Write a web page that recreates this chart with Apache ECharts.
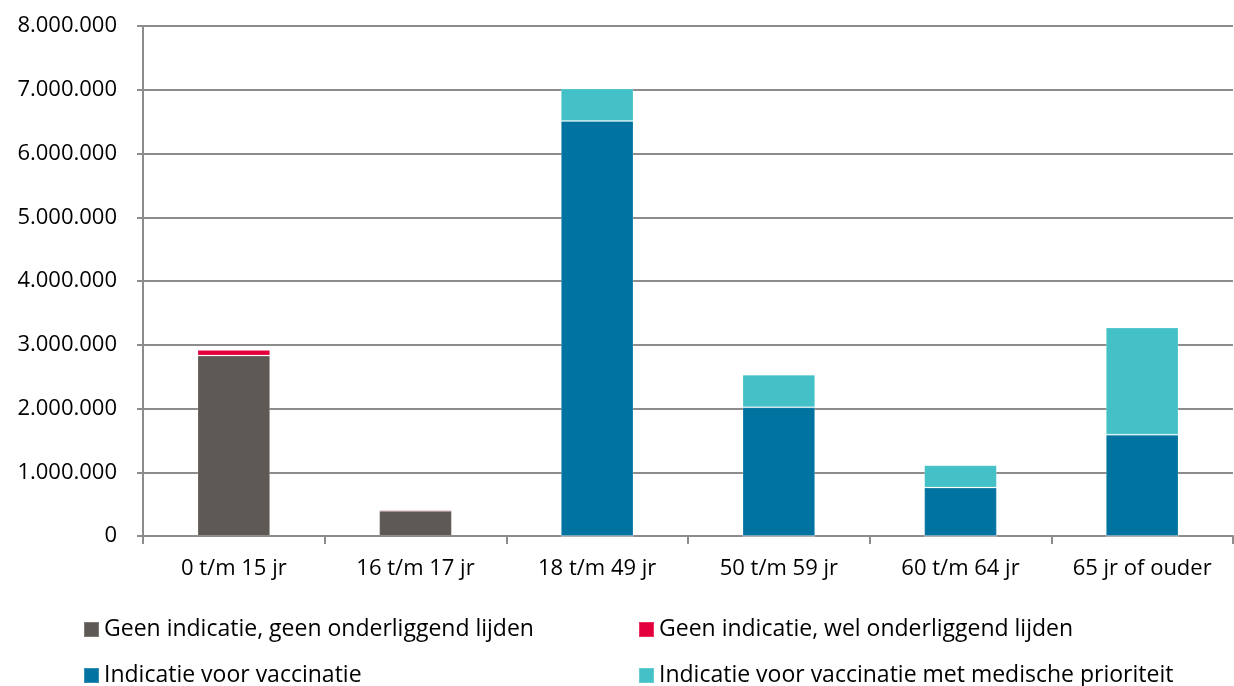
<!DOCTYPE html>
<html>
<head>
<meta charset="utf-8">
<script src="https://cdn.jsdelivr.net/npm/echarts@6/dist/echarts.min.js"></script>
<style>
    html, body { margin: 0; padding: 0; background: #fff; }
    #chart { width: 1234px; height: 686px; }
</style>
</head>
<body>
<div id="chart"></div>
<script>
// categorieën (leeftijdsgroepen)
var categories = ['0 t/m 15 jr', '16 t/m 17 jr', '18 t/m 49 jr', '50 t/m 59 jr', '60 t/m 64 jr', '65 jr of ouder'];

// reeksen
var seriesNames = [
    'Geen indicatie, geen onderliggend lijden',
    'Geen indicatie, wel onderliggend lijden',
    'Indicatie voor vaccinatie',
    'Indicatie voor vaccinatie met medische prioriteit'
];
var geenGeen = [2830000, 395000, 0, 0, 0, 0];
var geenWel = [90000, 20000, 0, 0, 0, 0];
var indicatie = [0, 0, 6510000, 2020000, 760000, 1590000];
var prioriteit = [0, 0, 510000, 510000, 350000, 1680000];

var colors = ['#5e5954', '#e4003d', '#0073a0', '#43c1c6'];

var font = '"Open Sans", sans-serif';

function fmt(v) {
    return String(v).replace(/\B(?=(\d{3})+(?!\d))/g, '.');
}

function legendAt(name, left, top) {
    return {
        data: [name],
        left: left,
        top: top,
        padding: 0,
        itemWidth: 15,
        itemHeight: 15,
        icon: 'rect',
        textStyle: { fontFamily: font, fontSize: 23, color: '#000' },
        selectedMode: false
    };
}

var chart = echarts.init(document.getElementById('chart'));
var values = [geenGeen, geenWel, indicatie, prioriteit];

chart.setOption({
    animation: false,
    color: colors,
    grid: { left: 143, right: 1, top: 26, bottom: 150 },
    legend: [
        legendAt(seriesNames[0], 83, 618),
        legendAt(seriesNames[1], 638, 618),
        legendAt(seriesNames[2], 83, 664),
        legendAt(seriesNames[3], 638, 664)
    ],
    xAxis: {
        type: 'category',
        data: categories,
        axisLine: { lineStyle: { color: '#8c8c8c', width: 2 } },
        axisTick: { show: true, length: 8, lineStyle: { color: '#8c8c8c', width: 2 } },
        axisLabel: { fontFamily: font, fontSize: 22, color: '#000', margin: 22 }
    },
    yAxis: {
        type: 'value',
        min: 0,
        max: 8000000,
        interval: 1000000,
        axisLine: { show: true, lineStyle: { color: '#8c8c8c', width: 2 } },
        axisTick: { show: true, length: 6, lineStyle: { color: '#8c8c8c', width: 2 } },
        splitLine: { lineStyle: { color: '#8c8c8c', width: 2 } },
        axisLabel: { fontFamily: font, fontSize: 22, color: '#000', margin: 26, formatter: fmt }
    },
    series: values.map(function (d, i) {
        return {
            name: seriesNames[i],
            type: 'bar',
            stack: 'totaal',
            barWidth: '40%',
            data: d,
            itemStyle: { borderColor: 'rgba(255,255,255,0.2)', borderWidth: 1 }
        };
    })
});
</script>
</body>
</html>
